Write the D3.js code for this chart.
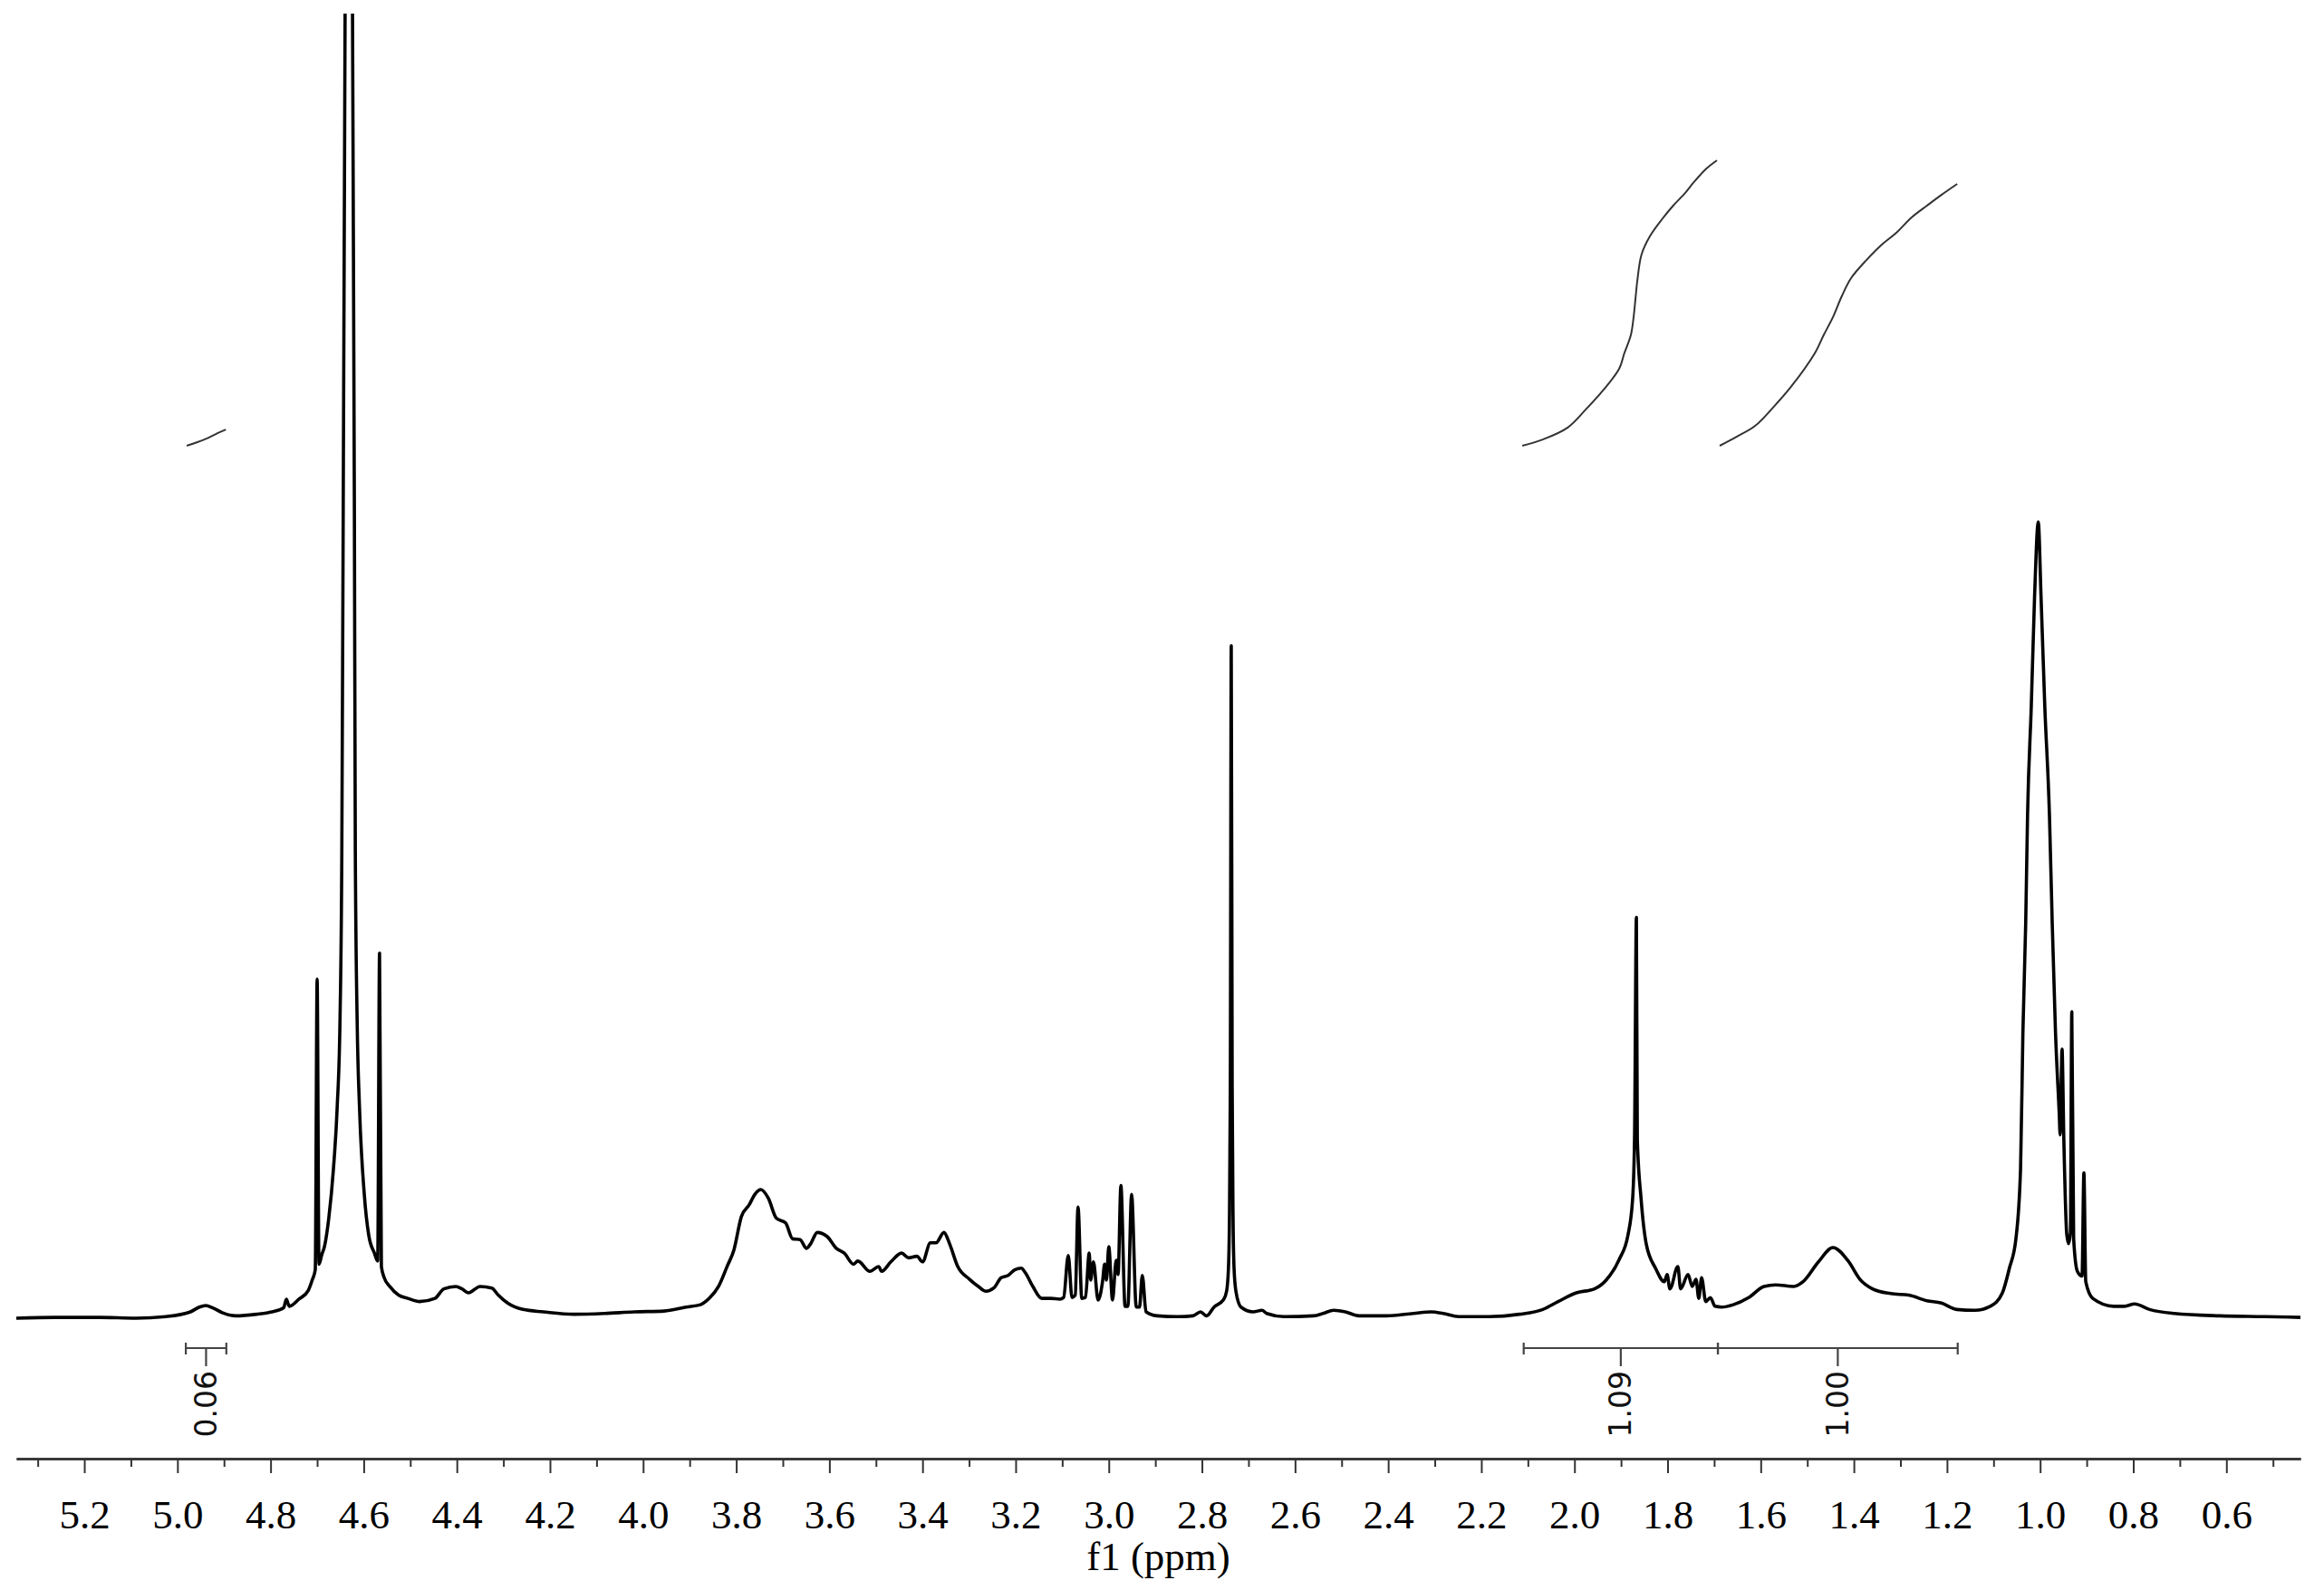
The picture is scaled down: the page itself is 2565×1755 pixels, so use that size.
<!DOCTYPE html>
<html>
<head>
<meta charset="utf-8">
<script src="https://cdn.jsdelivr.net/npm/d3@7"></script>
<style>
  body { margin: 0; background: #fff; }
  svg { display: block; }
</style>
</head>
<body>
<div id="spectrum"></div>
<script>
// Spectrum: chemical shift (ppm) and relative intensity
const shiftPpm = [
  5.346, 5.264, 5.167, 5.089, 5.025, 4.972, 4.953, 4.939, 4.924, 4.904,
  4.875, 4.830, 4.797, 4.772, 4.766, 4.760, 4.739, 4.719, 4.710, 4.704,
  4.700, 4.696, 4.690, 4.684, 4.675, 4.665, 4.657, 4.651, 4.647, 4.644,
  4.640, 4.632, 4.624, 4.620, 4.618, 4.614, 4.609, 4.599, 4.589, 4.577,
  4.570, 4.566, 4.562, 4.556, 4.544, 4.525, 4.505, 4.480, 4.447, 4.428,
  4.402, 4.389, 4.375, 4.350, 4.325, 4.311, 4.291, 4.258, 4.214, 4.149,
  4.083, 4.019, 3.955, 3.908, 3.877, 3.858, 3.838, 3.819, 3.805, 3.789,
  3.772, 3.760, 3.747, 3.731, 3.714, 3.694, 3.679, 3.663, 3.649, 3.640,
  3.626, 3.605, 3.585, 3.568, 3.548, 3.539, 3.513, 3.494, 3.488, 3.468,
  3.445, 3.430, 3.412, 3.400, 3.383, 3.371, 3.354, 3.342, 3.325, 3.299,
  3.280, 3.264, 3.247, 3.231, 3.216, 3.202, 3.188, 3.179, 3.163, 3.144,
  3.124, 3.105, 3.097, 3.087, 3.079, 3.072, 3.066, 3.058, 3.050, 3.042,
  3.039, 3.033, 3.023, 3.013, 3.009, 3.005, 3.000, 2.992, 2.984, 2.980,
  2.974, 2.965, 2.959, 2.951, 2.941, 2.934, 2.928, 2.920, 2.896, 2.852,
  2.819, 2.803, 2.790, 2.774, 2.754, 2.747, 2.743, 2.741, 2.739, 2.737,
  2.735, 2.733, 2.731, 2.727, 2.716, 2.690, 2.671, 2.661, 2.624, 2.560,
  2.540, 2.517, 2.492, 2.463, 2.404, 2.346, 2.307, 2.282, 2.249, 2.184,
  2.118, 2.068, 2.035, 1.996, 1.957, 1.932, 1.904, 1.885, 1.875, 1.871,
  1.867, 1.865, 1.857, 1.846, 1.826, 1.807, 1.801, 1.795, 1.778, 1.772,
  1.756, 1.747, 1.739, 1.733, 1.727, 1.718, 1.708, 1.698, 1.684, 1.659,
  1.626, 1.593, 1.568, 1.529, 1.509, 1.476, 1.445, 1.412, 1.387, 1.360,
  1.321, 1.282, 1.243, 1.212, 1.179, 1.140, 1.107, 1.081, 1.066, 1.052,
  1.042, 1.037, 1.031, 1.027, 1.019, 1.012, 1.004, 0.998, 0.990, 0.980,
  0.974, 0.967, 0.959, 0.957, 0.953, 0.949, 0.943, 0.939, 0.935, 0.932,
  0.928, 0.920, 0.910, 0.906, 0.902, 0.887, 0.842, 0.819, 0.797, 0.765,
  0.712, 0.614, 0.517, 0.441
];
const intensity = [
  0, 0.1, 0.1, 0, 0.2, 0.8, 1.4, 1.6, 1.3, 0.7,
  0.3, 0.5, 0.8, 1.3, 2.4, 1.5, 2.4, 3.5, 4.9, 6.1,
  42.7, 6.8, 8.0, 9.1, 12.6, 18.8, 26.5, 37.2, 58.7, 101.7,
  163.9, 290, 163.9, 101.7, 58.7, 37.2, 26.5, 15.8, 10.4, 8.2,
  7.2, 46.0, 6.5, 5.1, 4.0, 2.9, 2.5, 2.1, 2.5, 3.7,
  4.0, 3.7, 3.2, 4.0, 3.8, 2.9, 1.9, 1.1, 0.8, 0.5,
  0.6, 0.8, 0.9, 1.4, 1.7, 2.5, 4.0, 6.6, 8.6, 12.8,
  14.3, 15.6, 16.2, 15.1, 12.6, 12.0, 10.0, 9.9, 8.8, 9.4,
  10.8, 10.3, 8.8, 8.2, 6.8, 7.2, 5.9, 6.5, 5.9, 7.1,
  8.2, 7.6, 7.8, 7.1, 9.5, 9.5, 10.8, 9.4, 6.6, 4.9,
  4.0, 3.4, 3.8, 5.1, 5.4, 6.1, 6.3, 5.7, 4.0, 2.5,
  2.5, 2.4, 2.6, 7.9, 2.6, 2.9, 14.0, 2.5, 2.6, 8.2,
  4.8, 7.1, 2.3, 4.8, 6.8, 4.8, 9.0, 2.3, 7.3, 5.5,
  16.7, 1.5, 1.5, 15.6, 1.4, 1.4, 5.4, 0.8, 0.3, 0.2,
  0.3, 0.8, 0.3, 1.4, 2.3, 3.4, 6.3, 12.0, 29.1, 84.7,
  29.1, 12.0, 6.3, 3.4, 1.4, 0.8, 1.0, 0.6, 0.2, 0.3,
  0.6, 1.0, 0.8, 0.3, 0.3, 0.6, 0.8, 0.6, 0.2, 0.2,
  0.5, 1.1, 2.1, 3.2, 3.7, 4.8, 7.4, 10.5, 15.1, 22.6,
  50.5, 22.6, 15.1, 9.4, 6.3, 4.6, 5.5, 3.7, 6.5, 3.7,
  5.5, 4.0, 4.9, 2.5, 5.1, 2.1, 2.6, 1.5, 1.4, 1.7,
  2.6, 4.0, 4.2, 4.0, 4.6, 7.1, 8.9, 7.2, 4.9, 3.7,
  3.1, 2.9, 2.2, 1.9, 1.1, 1.0, 1.5, 3.2, 6.3, 10.0,
  18.9, 36.0, 49.7, 63.4, 77.1, 90.8, 100.3, 90.8, 77.1, 63.4,
  49.7, 36.0, 25.8, 23.1, 33.9, 22.3, 10.7, 9.4, 10.7, 38.6,
  10.0, 5.9, 5.3, 18.3, 4.6, 2.5, 1.5, 1.5, 1.8, 1.1,
  0.6, 0.3, 0.2, 0.1
];

// Integration regions (ppm) and their values
const integralFrom = [4.982, 2.109, 1.692];
const integralTo = [4.895, 1.692, 1.177];
const integralLabels = ['0.06', '1.09', '1.00'];

// Integral curves (ppm, cumulative integral)
const intCurve1Ppm = [4.980, 4.957, 4.933, 4.914, 4.896];
const intCurve1Val = [0, 0.014, 0.031, 0.048, 0.062];
const intCurve2Ppm = [2.112, 2.068, 2.015, 1.976, 1.937, 1.904, 1.893, 1.879, 1.873, 1.869, 1.865, 1.856, 1.838, 1.812, 1.788, 1.762, 1.743, 1.717, 1.694];
const intCurve2Val = [0, 0.024, 0.069, 0.138, 0.215, 0.294, 0.353, 0.422, 0.491, 0.561, 0.630, 0.730, 0.800, 0.865, 0.917, 0.966, 1.008, 1.058, 1.090];
const intCurve3Ppm = [1.688, 1.651, 1.612, 1.574, 1.535, 1.484, 1.465, 1.445, 1.426, 1.406, 1.373, 1.340, 1.309, 1.276, 1.243, 1.212, 1.178];
const intCurve3Val = [0, 0.035, 0.076, 0.145, 0.225, 0.353, 0.422, 0.491, 0.571, 0.640, 0.709, 0.768, 0.813, 0.872, 0.917, 0.958, 1.000];

// Axis ticks
const majorTicks = [5.2, 5.0, 4.8, 4.6, 4.4, 4.2, 4.0, 3.8, 3.6, 3.4, 3.2, 3.0, 2.8, 2.6, 2.4, 2.2, 2.0, 1.8, 1.6, 1.4, 1.2, 1.0, 0.8, 0.6];
const minorTicks = [5.3, 5.1, 4.9, 4.7, 4.5, 4.3, 4.1, 3.9, 3.7, 3.5, 3.3, 3.1, 2.9, 2.7, 2.5, 2.3, 2.1, 1.9, 1.7, 1.5, 1.3, 1.1, 0.9, 0.7, 0.5];

// Dimensions
const dims = {width: 2565, height: 1755};
const axisY = 1610;
const barY = 1488;

// Scales
const x = d3.scaleLinear().domain([5.346, 0.441]).range([18, 2539]);
const y = d3.scaleLinear().domain([0, 164]).range([1455, 18]);
const yInt = d3.scaleLinear().domain([0, 1]).range([492, 203]);

// SVG
const svg = d3.select('#spectrum')
  .append('svg')
  .attr('width', dims.width)
  .attr('height', dims.height);

svg.append('defs').append('clipPath')
  .attr('id', 'plot-clip')
  .append('rect')
  .attr('x', 0).attr('y', 15)
  .attr('width', dims.width).attr('height', 1500);

// Spectrum line
const points = shiftPpm.map((p, i) => [p, intensity[i]]);
const specLine = d3.line()
  .x(d => x(d[0]))
  .y(d => y(d[1]))
  .curve(d3.curveMonotoneX);

svg.append('g')
  .attr('clip-path', 'url(#plot-clip)')
  .append('path')
  .datum(points)
  .attr('d', specLine)
  .attr('fill', 'none')
  .attr('stroke', '#000')
  .attr('stroke-width', 3.6)
  .attr('stroke-linejoin', 'round');

// Integral curves
const intLine = d3.line()
  .x(d => x(d[0]))
  .y(d => yInt(d[1]))
  .curve(d3.curveCatmullRom.alpha(0.5));

const curves = [
  intCurve1Ppm.map((p, i) => [p, intCurve1Val[i]]),
  intCurve2Ppm.map((p, i) => [p, intCurve2Val[i]]),
  intCurve3Ppm.map((p, i) => [p, intCurve3Val[i]])
];

svg.append('g')
  .selectAll('path')
  .data(curves)
  .enter()
  .append('path')
    .attr('d', intLine)
    .attr('fill', 'none')
    .attr('stroke', '#333')
    .attr('stroke-width', 2);

// Integration bars
const bars = svg.append('g').attr('stroke', '#444').attr('stroke-width', 2.2);
integralFrom.forEach((from, i) => {
  const x0 = x(from), x1 = x(integralTo[i]);
  const xm = x((from + integralTo[i]) / 2);
  bars.append('line').attr('x1', x0).attr('x2', x1).attr('y1', barY).attr('y2', barY);
  bars.append('line').attr('x1', x0).attr('x2', x0).attr('y1', barY - 6).attr('y2', barY + 7);
  bars.append('line').attr('x1', x1).attr('x2', x1).attr('y1', barY - 6).attr('y2', barY + 7);
  bars.append('line').attr('x1', xm).attr('x2', xm).attr('y1', barY).attr('y2', barY + 20);
  svg.append('text')
    .attr('transform', `translate(${xm}, ${barY + 25}) rotate(-90)`)
    .attr('text-anchor', 'end')
    .attr('dominant-baseline', 'central')
    .style('font-family', '"DejaVu Sans", sans-serif')
    .style('font-size', '33px')
    .attr('fill', '#111')
    .text(integralLabels[i]);
});

// Axis
const axisG = svg.append('g')
  .attr('transform', `translate(0, ${axisY})`);

axisG.call(d3.axisBottom(x)
  .tickValues(minorTicks)
  .tickSize(9)
  .tickSizeOuter(0)
  .tickFormat(''));

axisG.append('g').call(d3.axisBottom(x)
  .tickValues(majorTicks)
  .tickSize(16)
  .tickSizeOuter(0)
  .tickFormat(d3.format('.1f')));

axisG.selectAll('path.domain').attr('stroke', '#333').attr('stroke-width', 2.5);
axisG.selectAll('.tick line').attr('stroke', '#333').attr('stroke-width', 2);
axisG.selectAll('.tick text')
  .attr('y', 77)
  .attr('dy', 0)
  .attr('fill', '#000')
  .style('font-family', '"Liberation Serif", serif')
  .style('font-size', '45px');

// Axis title
svg.append('text')
  .attr('x', (x.range()[0] + x.range()[1]) / 2)
  .attr('y', 1733)
  .attr('text-anchor', 'middle')
  .style('font-family', '"Liberation Serif", serif')
  .style('font-size', '45px')
  .text('f1 (ppm)');
</script>
</body>
</html>
